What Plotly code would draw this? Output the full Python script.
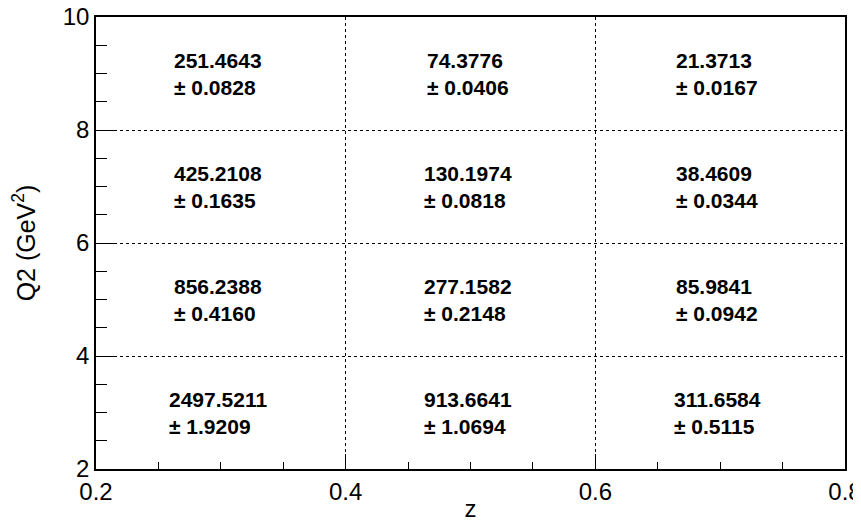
import plotly.graph_objects as go

z_centers = [0.3, 0.5, 0.7]
q2_centers = [3, 5, 7, 9]
# values[row for Q2 bin][col for z bin]
values = [
    [2497.5211, 913.6641, 311.6584],
    [856.2388, 277.1582, 85.9841],
    [425.2108, 130.1974, 38.4609],
    [251.4643, 74.3776, 21.3713],
]
errors = [
    [1.9209, 1.0694, 0.5115],
    [0.4160, 0.2148, 0.0942],
    [0.1635, 0.0818, 0.0344],
    [0.0828, 0.0406, 0.0167],
]
x_ticks = [0.2, 0.4, 0.6, 0.8]
y_ticks = [2, 4, 6, 8, 10]

FONT = "Liberation Sans, Arial, Helvetica, sans-serif"

fig = go.Figure()
fig.add_trace(go.Scatter(x=[None], y=[None], showlegend=False, hoverinfo="skip"))

annotations = []
for i, q in enumerate(q2_centers):
    for j, zc in enumerate(z_centers):
        annotations.append(dict(
            x=zc, y=q, xref="x", yref="y",
            text=f"{values[i][j]:.4f}<br>± {errors[i][j]:.4f}",
            showarrow=False, align="left",
            xanchor="center", yanchor="middle", xshift=-3,
            font=dict(family=FONT, size=21, color="black", weight="bold"),
        ))

# page body has an 8px margin, so the figure is sized to fit the 861x522 window
fig.update_layout(
    width=853, height=514,
    margin=dict(l=88, r=16, t=9, b=53),
    paper_bgcolor="white", plot_bgcolor="white",
    showlegend=False,
    annotations=annotations,
    font=dict(family=FONT, color="black"),
    xaxis=dict(
        range=[0.2, 0.8], tickvals=x_ticks, ticktext=[f"{v:g}" for v in x_ticks],
        ticks="inside", ticklen=15, tickwidth=1, tickcolor="black",
        showline=True, linecolor="black", linewidth=1.5, mirror=True,
        showgrid=True, gridcolor="black", griddash="dot", gridwidth=1,
        zeroline=False, automargin=False, ticklabeloverflow="allow",
        tickfont=dict(size=24, family=FONT, color="black"),
        minor=dict(dtick=0.05, tick0=0.2, ticks="inside", ticklen=7,
                   tickwidth=1, tickcolor="black", showgrid=False),
        title=dict(text="z", font=dict(size=24, family=FONT, color="black"), standoff=6),
    ),
    yaxis=dict(
        range=[2, 10], tickvals=y_ticks, ticktext=[str(v) for v in y_ticks],
        ticks="inside", ticklen=20, tickwidth=1, tickcolor="black",
        showline=True, linecolor="black", linewidth=1.5, mirror=True,
        showgrid=True, gridcolor="black", griddash="dot", gridwidth=1,
        zeroline=False, automargin=False, ticklabeloverflow="allow",
        tickfont=dict(size=24, family=FONT, color="black"),
        minor=dict(dtick=0.5, tick0=2, ticks="inside", ticklen=11,
                   tickwidth=1, tickcolor="black", showgrid=False),
        title=dict(text="Q2 (GeV<sup>2</sup>)", font=dict(size=25, family=FONT, color="black"), standoff=27),
    ),
)

fig.write_html("out.html")
